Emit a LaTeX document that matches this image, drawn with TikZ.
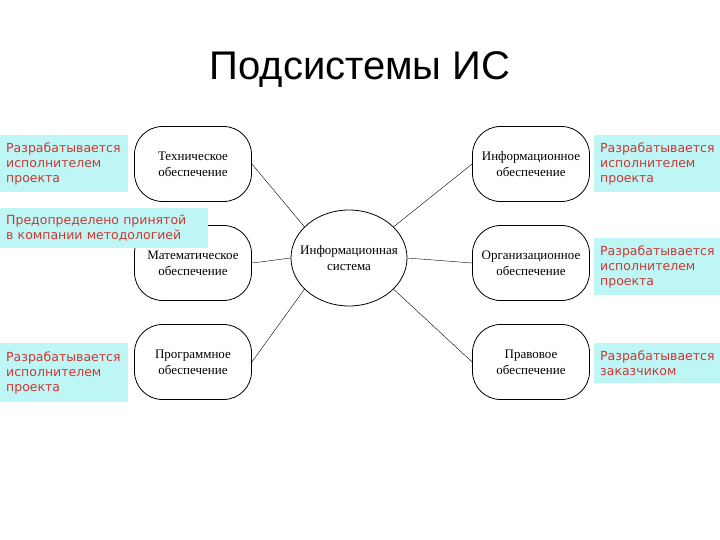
\documentclass[tikz,border=0pt]{standalone}
\usepackage{fontspec}
\setmainfont{Liberation Serif}
\newfontfamily\lsans{Liberation Sans}
\newfontfamily\dsans{DejaVu Sans}
\usetikzlibrary{shapes.geometric}
\definecolor{cy}{RGB}{190,245,245}
\definecolor{rd}{RGB}{205,55,50}
\tikzset{
 sub/.style={draw,thick,rounded corners=28pt,minimum width=117pt,minimum height=75pt,align=center,font=\fontsize{13}{16}\selectfont},
 note/.style={fill=cy,text=rd,align=left,anchor=north west,inner xsep=6pt,inner ysep=3pt,font=\dsans\fontsize{12.5}{15}\selectfont},
 link/.style={thin}
}
\begin{document}
\begin{tikzpicture}[x=1pt,y=-1pt]
\useasboundingbox (0,0) rectangle (720,540);
\node[font=\lsans\fontsize{40}{46}\selectfont] (title) at (360,70) {Подсистемы ИС};
\node[draw,thick,ellipse,inner sep=0pt,minimum width=116pt,minimum height=96pt] (is) at (349,258) {};
\node[align=center,inner sep=0pt,font=\fontsize{13}{16}\selectfont] (istext) at (is.center) {Информационная\\система};
\node[sub] (t) at (193,164) {Техническое\\обеспечение};
\node[sub] (m) at (193,263) {Математическое\\обеспечение};
\node[sub] (p) at (193,362) {Программное\\обеспечение};
\node[sub] (i) at (531,164) {Информационное\\обеспечение};
\node[sub] (o) at (531,263) {Организационное\\обеспечение};
\node[sub] (l) at (531,362) {Правовое\\обеспечение};
\draw[link] (t.east) -- (is.145);
\draw[link] (m.east) -- (is.west);
\draw[link] (p.east) -- (is.215);
\draw[link] (i.west) -- (is.35);
\draw[link] (o.west) -- (is.east);
\draw[link] (l.west) -- (is.325);
\node[note,text width=116pt,minimum height=57pt] (n1) at (0,135) {Разрабатывается\\исполнителем\\проекта};
\node[note,text width=196pt,minimum height=40pt,inner ysep=2pt] (n2) at (0,208) {Предопределено принятой\\в компании методологией};
\node[note,text width=116pt,minimum height=59pt] (n3) at (0,343) {Разрабатывается\\исполнителем\\проекта};
\node[note,text width=114pt,minimum height=57pt] (n4) at (594,135) {Разрабатывается\\исполнителем\\проекта};
\node[note,text width=114pt,minimum height=57pt] (n5) at (594,238) {Разрабатывается\\исполнителем\\проекта};
\node[note,text width=114pt,minimum height=40pt] (n6) at (594,343) {Разрабатывается\\заказчиком};
\end{tikzpicture}
\end{document}
